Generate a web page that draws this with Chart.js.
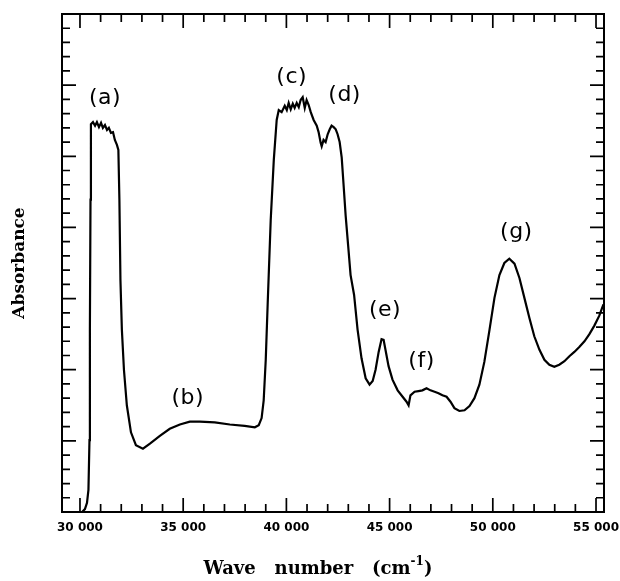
<!DOCTYPE html>
<html>
<head>
<meta charset="utf-8">
<script src="https://cdn.jsdelivr.net/npm/chart.js@4"></script>
<style>
  html, body { margin: 0; padding: 0; background: #fff; }
  #wrap { width: 620px; height: 581px; }
</style>
</head>
<body>
<div id="wrap"><canvas id="canvas" width="620" height="581"></canvas></div>
<script>
	// spectrum (wave number in cm-1, absorbance in axis units 0..7)
	var wavenumber = [
		30100,30240,30340,30410,30460,30480,30510,30530,30630,30730,
		30820,30920,31020,31110,31210,31310,31400,31500,31600,31690,
		31790,31860,31910,31960,32030,32130,32270,32470,32710,33050,
		33390,33870,34350,34840,35320,35810,36530,37260,37980,38470,
		38660,38800,38900,39000,39100,39240,39390,39530,39630,39770,
		39920,40020,40110,40210,40310,40400,40500,40600,40690,40790,
		40890,40980,41080,41180,41320,41470,41560,41660,41710,41800,
		41900,42000,42100,42190,42290,42390,42480,42580,42680,42770,
		42870,42990,43110,43280,43450,43640,43840,44030,44180,44320,
		44470,44610,44710,44800,44950,45140,45390,45630,45820,45920,
		46010,46210,46400,46590,46790,46980,47180,47370,47560,47760,
		47950,48140,48380,48630,48870,49110,49350,49590,49840,50080,
		50320,50560,50800,51050,51290,51530,51770,52010,52260,52500,
		52740,52980,53220,53470,53710,53950,54190,54440,54680,54920,
		55160,55360
	];
	var absorbance = [
		0.00,0.04,0.13,0.31,1.01,2.56,4.39,5.45,5.48,5.43,
		5.48,5.41,5.47,5.40,5.44,5.37,5.40,5.33,5.34,5.23,
		5.16,5.09,4.39,3.26,2.56,2.00,1.50,1.12,0.94,0.89,
		0.96,1.07,1.17,1.23,1.27,1.27,1.26,1.23,1.21,1.19,
		1.22,1.32,1.57,2.14,2.98,4.10,4.95,5.51,5.65,5.62,
		5.71,5.65,5.75,5.66,5.74,5.68,5.75,5.69,5.79,5.83,
		5.68,5.79,5.72,5.62,5.51,5.43,5.34,5.19,5.14,5.23,
		5.20,5.31,5.38,5.43,5.41,5.38,5.31,5.20,4.98,4.60,
		4.17,3.75,3.33,3.05,2.56,2.16,1.88,1.79,1.84,2.00,
		2.25,2.43,2.42,2.28,2.05,1.86,1.71,1.62,1.55,1.50,
		1.64,1.69,1.70,1.71,1.74,1.71,1.69,1.67,1.64,1.62,
		1.55,1.46,1.42,1.43,1.49,1.60,1.79,2.11,2.56,3.01,
		3.33,3.50,3.56,3.49,3.29,3.01,2.73,2.47,2.28,2.14,
		2.07,2.04,2.07,2.12,2.19,2.25,2.32,2.40,2.50,2.62,
		2.76,2.92
	];
	var xTicks = [30000, 35000, 40000, 45000, 50000, 55000];

	// band labels and where they sit (data units)
	var bandNames = ["(a)", "(b)", "(c)", "(d)", "(e)", "(f)", "(g)"];
	var bandX = [31210, 35225, 40257, 42821, 44780, 46546, 51142];
	var bandY = [5.82, 1.60, 6.11, 5.86, 2.84, 2.12, 3.93];

	var points = [];
	for (var i = 0; i < wavenumber.length; i++) {
		points.push({x: wavenumber[i], y: absorbance[i]});
	}

	// frame, inward ticks, band labels and x title
	var framePlugin = {
		id: 'framePlugin',
		afterDatasetsDraw: function(chart) {
			var ctx = chart.ctx, a = chart.chartArea;
			var xs = chart.scales.x, ys = chart.scales.y;
			ctx.save();
			ctx.strokeStyle = '#000';
			ctx.lineWidth = 2;
			ctx.strokeRect(a.left, a.top, a.right - a.left, a.bottom - a.top);

			ctx.lineWidth = 1.7;
			ctx.beginPath();
			for (var w = 30000; w <= 55000; w += 1000) {
				var px = xs.getPixelForValue(w);
				var len = (w % 5000 === 0) ? 14 : 8;
				ctx.moveTo(px, a.bottom); ctx.lineTo(px, a.bottom - len);
				ctx.moveTo(px, a.top); ctx.lineTo(px, a.top + len);
			}
			for (var k = 1; k < 35; k++) {
				var py = ys.getPixelForValue(k / 5);
				var l = (k % 5 === 0) ? 14 : 8;
				ctx.moveTo(a.left, py); ctx.lineTo(a.left + l, py);
				ctx.moveTo(a.right, py); ctx.lineTo(a.right - l, py);
			}
			ctx.stroke();

			ctx.fillStyle = '#000';
			ctx.font = '22px "DejaVu Sans"';
			ctx.textAlign = 'center';
			ctx.textBaseline = 'middle';
			ctx.letterSpacing = '0.5px';
			for (var j = 0; j < bandNames.length; j++) {
				ctx.fillText(bandNames[j], xs.getPixelForValue(bandX[j]), ys.getPixelForValue(bandY[j]));
			}
			ctx.letterSpacing = '0px';

			// x axis title with superscript
			var main = 'Wave   number   (cm', sup = '-1', tail = ')';
			var big = 'bold 18px "DejaVu Serif"', small = 'bold 12px "DejaVu Serif"';
			ctx.font = big;
			var w1 = ctx.measureText(main).width, w3 = ctx.measureText(tail).width;
			ctx.font = small;
			var w2 = ctx.measureText(sup).width;
			var tx = 318 - (w1 + w2 + w3) / 2, ty = 567;
			ctx.textAlign = 'left';
			ctx.textBaseline = 'alphabetic';
			ctx.font = big;
			ctx.fillText(main, tx, ty + 7);
			ctx.font = small;
			ctx.fillText(sup, tx + w1, ty - 2);
			ctx.font = big;
			ctx.fillText(tail, tx + w1 + w2, ty + 7);
			ctx.restore();
		}
	};

	var config = {
		type: 'line',
		data: {
			datasets: [{
				label: 'Absorbance',
				data: points,
				borderColor: '#000',
				borderWidth: 2.2,
				pointRadius: 0,
				tension: 0,
				fill: false
			}]
		},
		options: {
			responsive: false,
			animation: false,
			layout: { padding: { top: 14, right: 16, left: 0, bottom: 0 } },
			plugins: { legend: { display: false }, tooltip: { enabled: false } },
			scales: {
				x: {
					type: 'linear',
					min: 29129,
					max: 55387,
					grid: { display: false, drawTicks: false },
					border: { display: false },
					afterBuildTicks: function(scale) {
						scale.ticks = xTicks.map(function(v) { return {value: v}; });
					},
					afterFit: function(scale) {
						scale.height = 69;
						scale.paddingLeft = 0;
						scale.paddingRight = 0;
					},
					ticks: {
						padding: 9,
						maxRotation: 0,
						color: '#000',
						font: { family: 'DejaVu Sans', weight: 'bold', size: 12 },
						callback: function(v) { return String(v).replace(/(\d{2})(\d{3})$/, '$1 $2'); }
					}
				},
				y: {
					min: 0,
					max: 7,
					grid: { display: false, drawTicks: false },
					border: { display: false },
					ticks: { display: false },
					afterFit: function(scale) { scale.width = 62; },
					title: {
						display: true,
						text: 'Absorbance',
						color: '#000',
						font: { family: 'DejaVu Serif', weight: 'bold', size: 17 },
						padding: { top: 9, bottom: 0 }
					}
				}
			}
		},
		plugins: [framePlugin]
	};

	window.onload = function() {
		window.myChart = new Chart(document.getElementById("canvas"), config);
	};
</script>
</body>
</html>
